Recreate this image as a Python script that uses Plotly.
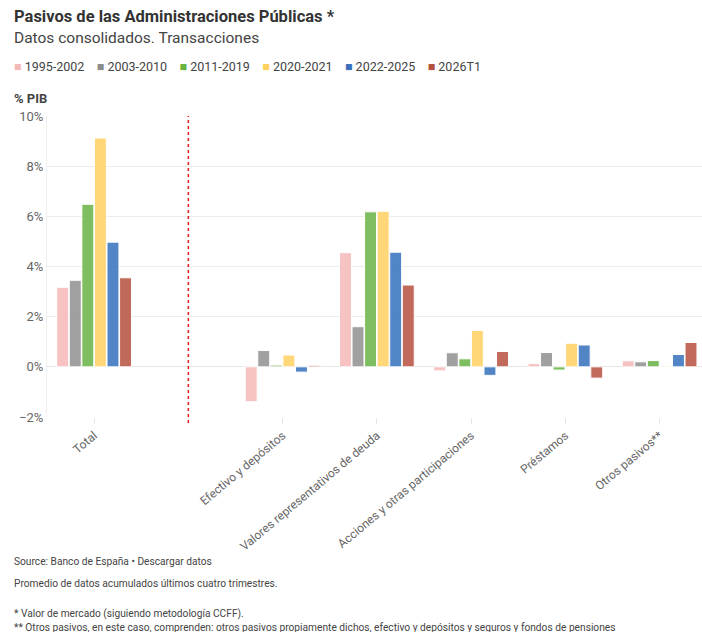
import plotly.graph_objects as go

categories = ["Total", " ", "Efectivo y depósitos", "Valores representativos de deuda",
              "Acciones y otras participaciones", "Préstamos", "Otros pasivos**"]

periods = ["1995-2002", "2003-2010", "2011-2019", "2020-2021", "2022-2025", "2026T1"]
colors = ["#f7bcbc", "#969696", "#72b84f", "#ffd36b", "#3f78c0", "#bb5a4b"]
legend_colors = ["#f5b7b7", "#8c8c8c", "#6bb33f", "#ffd15c", "#3a70bb", "#b5503f"]

# % PIB, one list per period (None for the blank separator category)
v_1995_2002 = [3.17, None, -1.39, 4.55, -0.16, 0.13, 0.24]
v_2003_2010 = [3.45, None, 0.65, 1.60, 0.56, 0.57, 0.20]
v_2011_2019 = [6.48, None, 0.07, 6.18, 0.32, -0.13, 0.25]
v_2020_2021 = [9.12, None, 0.47, 6.20, 1.45, 0.94, 0.03]
v_2022_2025 = [4.97, None, -0.21, 4.57, -0.34, 0.87, 0.49]
v_2026T1 = [3.55, None, 0.06, 3.26, 0.61, -0.45, 0.97]

series = [v_1995_2002, v_2003_2010, v_2011_2019, v_2020_2021, v_2022_2025, v_2026T1]

fig = go.Figure()
for name, vals, col in zip(periods, series, colors):
    fig.add_trace(go.Bar(
        x=categories, y=vals, name=name, showlegend=False,
        marker=dict(color=col, opacity=0.9, line=dict(color="white", width=1)),
    ))

# red dotted separator
fig.add_shape(type="line", xref="x", yref="paper", x0=" ", x1=" ", y0=-0.02, y1=1,
              line=dict(color="#e8141a", width=1.5, dash="dot"))

PW, PH = 655, 301  # plot area size in px
fig.update_layout(
    width=702, height=632,
    font=dict(family="Roboto", size=13, color="#555"),
    plot_bgcolor="white", paper_bgcolor="white",
    margin=dict(l=47, r=0, t=116, b=215),
    barmode="group", bargap=0.2, bargroupgap=0.05,
    showlegend=False,
)
fig.update_xaxes(tickangle=-40, tickfont=dict(size=12, color="#666"),
                 ticks="outside", ticklen=6, tickcolor="#e6e6e6", automargin=False,
                 showgrid=False, showline=False, range=[-0.5, 6.45])
fig.update_yaxes(range=[-2, 10], dtick=2, ticksuffix="%", tickfont=dict(size=13, color="#666"),
                 gridcolor="#ececec", zeroline=True, zerolinecolor="#e6e6e6", zerolinewidth=1,
                 showline=True, linecolor="#efefef", linewidth=1, automargin=False)

# legend built as a single line of text with coloured squares
legend_txt = "&nbsp;&nbsp;&nbsp;&nbsp;".join(
    f"<span style='color:{c}'>■</span> <span style='color:#444'>{p}</span>"
    for p, c in zip(periods, legend_colors))

texts = [
    ("<b>Pasivos de las Administraciones Públicas *</b>", 17, 16.5, "#333"),
    ("Datos consolidados. Transacciones", 38, 15.5, "#444"),
    (legend_txt, 67, 12.5, "#444"),
    ("<b>% PIB</b>", 98, 13, "#444"),
    ("Source: Banco de España • Descargar datos", 561, 10.2, "#444"),
    ("Promedio de datos acumulados últimos cuatro trimestres.", 583, 10.2, "#444"),
    ("* Valor de mercado (siguiendo metodología CCFF).", 614, 10.2, "#444"),
    ("** Otros pasivos, en este caso, comprenden: otros pasivos propiamente dichos, efectivo y depósitos y seguros y fondos de pensiones",
     627, 10.2, "#444"),
]
for t, ypx, size, col in texts:
    fig.add_annotation(text=t, xref="paper", yref="paper", x=(12 - 47) / PW, xanchor="left",
                       y=1 + (116 - ypx) / PH, yanchor="middle", showarrow=False,
                       font=dict(size=size, color=col))

# drop the default page margin so the 702x632 figure fills the window exactly
fig.write_html("out.html", config={"displayModeBar": False},
               post_script="document.body.style.margin='0px';")
